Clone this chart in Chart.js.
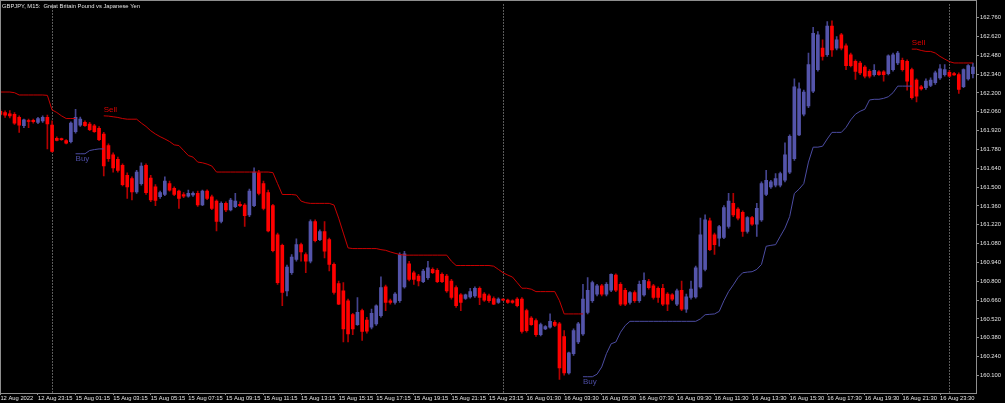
<!DOCTYPE html>
<html>
<head>
<meta charset="utf-8">
<script src="https://cdn.jsdelivr.net/npm/chart.js"></script>
<style>
  html, body { margin: 0; padding: 0; background: #000; overflow: hidden; }
</style>
</head>
<body>
<canvas id="myChart" width="1005" height="403"></canvas>
<script>
var symbolTitle = "GBPJPY, M15:  Great Britain Pound vs Japanese Yen";

// time axis: one label every 8 bars (M15)
var tickBars = [0, 8, 16, 24, 32, 40, 48, 56, 64, 72, 80, 88, 96, 104, 112, 120, 128, 136, 144, 152, 160, 168, 176, 184, 192, 200];
var timeLabels = ["12 Aug 2022", "12 Aug 23:15", "15 Aug 01:15", "15 Aug 03:15", "15 Aug 05:15", "15 Aug 07:15",
  "15 Aug 09:15", "15 Aug 11:15", "15 Aug 13:15", "15 Aug 15:15", "15 Aug 17:15", "15 Aug 19:15", "15 Aug 21:15",
  "15 Aug 23:15", "16 Aug 01:30", "16 Aug 03:30", "16 Aug 05:30", "16 Aug 07:30", "16 Aug 09:30", "16 Aug 11:30",
  "16 Aug 13:30", "16 Aug 15:30", "16 Aug 17:30", "16 Aug 19:30", "16 Aug 21:30", "16 Aug 23:30"];
var priceTicks = [160.100, 160.240, 160.380, 160.520, 160.660, 160.800, 160.940, 161.080, 161.220, 161.360,
  161.500, 161.640, 161.780, 161.920, 162.060, 162.200, 162.340, 162.480, 162.620, 162.760];
var daySeparators = [11, 107, 202];

var openPrices = [
  162.064, 162.055, 162.045, 162.042, 162.018, 161.956, 161.993, 161.996, 161.981, 161.993,
  162.018, 161.961, 161.863, 161.858, 161.846, 161.838, 161.912, 161.961, 161.981, 161.969,
  161.956, 161.937, 161.895, 161.809, 161.740, 161.706, 161.662, 161.588, 161.563, 161.465,
  161.526, 161.662, 161.568, 161.502, 161.428, 161.445, 161.526, 161.490, 161.470, 161.445,
  161.433, 161.441, 161.453, 161.367, 161.470, 161.428, 161.396, 161.244, 161.379, 161.330,
  161.355, 161.372, 161.367, 161.293, 161.362, 161.607, 161.526, 161.460, 161.362, 161.146,
  161.067, 160.728, 160.863, 160.962, 161.072, 160.999, 160.949, 161.244, 161.109, 161.170,
  161.109, 160.925, 160.782, 160.728, 160.655, 160.552, 160.478, 160.581, 160.512, 160.458,
  160.483, 160.544, 160.758, 160.655, 160.642, 160.655, 160.758, 160.930, 160.863, 160.839,
  160.797, 160.827, 160.888, 160.881, 160.851, 160.839, 160.802, 160.753, 160.699, 160.672,
  160.684, 160.691, 160.748, 160.704, 160.691, 160.672, 160.642, 160.662, 160.660, 160.655,
  160.667, 160.667, 160.581, 160.527, 160.507, 160.402, 160.446, 160.458, 160.495, 160.483,
  160.389, 160.119, 160.262, 160.348, 160.409, 160.569, 160.655, 160.704, 160.765, 160.704,
  160.733, 160.846, 160.777, 160.733, 160.642, 160.716, 160.655, 160.699, 160.797, 160.765,
  160.748, 160.748, 160.704, 160.699, 160.630, 160.733, 160.593, 160.679, 160.684, 160.758,
  160.888, 161.249, 161.146, 161.121, 161.126, 161.207, 161.379, 161.337, 161.313, 161.170,
  161.274, 161.224, 161.256, 161.445, 161.502, 161.514, 161.514, 161.551, 161.612, 161.711,
  161.888, 162.042, 162.104, 162.214, 162.374, 162.533, 162.484, 162.698, 162.533, 162.632,
  162.551, 162.484, 162.435, 162.423, 162.393, 162.361, 162.337, 162.357, 162.357, 162.344,
  162.374, 162.423, 162.443, 162.435, 162.374, 162.295, 162.246, 162.239, 162.256, 162.276,
  162.312, 162.337, 162.354, 162.344, 162.337, 162.246, 162.305, 162.344
];
var highPrices = [
  162.074, 162.067, 162.069, 162.055, 162.030, 162.005, 162.005, 162.005, 162.018, 162.030,
  162.035, 161.993, 161.873, 161.865, 161.853, 161.986, 162.079, 162.020, 161.993, 161.981,
  161.966, 161.951, 161.907, 161.821, 161.755, 161.723, 161.674, 161.607, 161.576, 161.625,
  161.681, 161.674, 161.588, 161.519, 161.470, 161.576, 161.544, 161.502, 161.477, 161.460,
  161.477, 161.465, 161.470, 161.477, 161.480, 161.441, 161.406, 161.391, 161.391, 161.416,
  161.453, 161.391, 161.377, 161.485, 161.644, 161.625, 161.544, 161.477, 161.372, 161.158,
  161.077, 160.920, 160.999, 161.116, 161.084, 161.011, 161.256, 161.256, 161.183, 161.244,
  161.121, 160.937, 160.802, 160.790, 160.667, 160.562, 160.679, 160.593, 160.532, 160.593,
  160.625, 160.832, 160.772, 160.667, 160.716, 161.011, 161.023, 160.949, 160.876, 160.851,
  160.888, 160.949, 160.900, 160.895, 160.863, 160.851, 160.814, 160.765, 160.709, 160.704,
  160.748, 160.758, 160.758, 160.716, 160.704, 160.684, 160.676, 160.669, 160.667, 160.662,
  160.679, 160.679, 160.593, 160.537, 160.520, 160.488, 160.471, 160.557, 160.507, 160.495,
  160.434, 160.274, 160.446, 160.495, 160.777, 160.827, 160.802, 160.777, 160.777, 160.790,
  160.856, 160.856, 160.790, 160.748, 160.723, 160.728, 160.802, 160.863, 160.814, 160.777,
  160.758, 160.777, 160.716, 160.709, 160.741, 160.802, 160.704, 160.802, 160.913, 161.269,
  161.293, 161.269, 161.158, 161.215, 161.362, 161.453, 161.453, 161.347, 161.323, 161.281,
  161.283, 161.379, 161.539, 161.625, 161.551, 161.600, 161.612, 161.829, 161.888, 162.305,
  162.276, 162.221, 162.497, 162.688, 162.656, 162.595, 162.730, 162.737, 162.619, 162.644,
  162.565, 162.497, 162.447, 162.435, 162.403, 162.374, 162.411, 162.366, 162.366, 162.484,
  162.497, 162.509, 162.460, 162.447, 162.386, 162.305, 162.256, 162.305, 162.312, 162.362,
  162.411, 162.411, 162.369, 162.354, 162.349, 162.379, 162.411, 162.423
];
var lowPrices = [
  162.030, 162.018, 162.015, 161.966, 161.907, 161.942, 161.942, 161.976, 161.971, 161.981,
  161.784, 161.760, 161.843, 161.848, 161.821, 161.829, 161.902, 161.951, 161.951, 161.919,
  161.907, 161.846, 161.583, 161.691, 161.612, 161.612, 161.509, 161.416, 161.404, 161.453,
  161.514, 161.445, 161.391, 161.362, 161.416, 161.436, 161.470, 161.436, 161.342, 161.421,
  161.426, 161.431, 161.357, 161.362, 161.406, 161.332, 161.175, 161.234, 161.318, 161.323,
  161.347, 161.355, 161.207, 161.281, 161.355, 161.441, 161.330, 161.166, 161.018, 160.777,
  160.618, 160.691, 160.851, 160.949, 160.949, 160.863, 160.937, 161.092, 161.102, 160.974,
  160.876, 160.704, 160.625, 160.348, 160.348, 160.402, 160.471, 160.360, 160.414, 160.446,
  160.471, 160.532, 160.581, 160.630, 160.630, 160.642, 160.748, 160.802, 160.777, 160.765,
  160.790, 160.814, 160.856, 160.790, 160.790, 160.716, 160.667, 160.606, 160.581, 160.664,
  160.674, 160.679, 160.625, 160.650, 160.642, 160.625, 160.635, 160.655, 160.635, 160.635,
  160.610, 160.414, 160.421, 160.471, 160.389, 160.394, 160.439, 160.451, 160.463, 160.070,
  160.102, 160.109, 160.249, 160.335, 160.397, 160.557, 160.642, 160.691, 160.691, 160.691,
  160.723, 160.723, 160.618, 160.618, 160.630, 160.642, 160.642, 160.689, 160.741, 160.667,
  160.642, 160.618, 160.581, 160.655, 160.618, 160.581, 160.569, 160.667, 160.674, 160.748,
  160.876, 161.028, 160.999, 161.060, 161.116, 161.195, 161.281, 161.256, 161.134, 161.158,
  161.215, 161.134, 161.244, 161.436, 161.490, 161.502, 161.502, 161.539, 161.600, 161.698,
  161.883, 162.030, 162.091, 162.202, 162.362, 162.443, 162.472, 162.472, 162.521, 162.521,
  162.374, 162.393, 162.300, 162.337, 162.312, 162.312, 162.325, 162.330, 162.288, 162.335,
  162.362, 162.411, 162.362, 162.221, 162.153, 162.133, 162.221, 162.226, 162.246, 162.263,
  162.300, 162.325, 162.320, 162.330, 162.197, 162.239, 162.295, 162.312
];
var closePrices = [
  162.040, 162.035, 162.030, 161.976, 161.961, 162.000, 161.988, 161.986, 162.010, 162.018,
  161.969, 161.765, 161.848, 161.853, 161.826, 161.976, 162.018, 162.005, 161.956, 161.927,
  161.912, 161.853, 161.657, 161.711, 161.642, 161.625, 161.519, 161.502, 161.465, 161.612,
  161.657, 161.458, 161.404, 161.401, 161.460, 161.544, 161.477, 161.445, 161.416, 161.433,
  161.453, 161.453, 161.367, 161.470, 161.416, 161.342, 161.244, 161.379, 161.330, 161.404,
  161.396, 161.362, 161.288, 161.470, 161.612, 161.453, 161.342, 161.175, 161.028, 160.790,
  160.716, 160.905, 160.979, 161.072, 161.018, 160.949, 161.244, 161.102, 161.170, 161.023,
  160.925, 160.716, 160.630, 160.446, 160.409, 160.446, 160.569, 160.426, 160.429, 160.561,
  160.618, 160.753, 160.642, 160.642, 160.704, 160.999, 161.003, 160.814, 160.814, 160.802,
  160.876, 160.900, 160.863, 160.797, 160.797, 160.728, 160.679, 160.618, 160.642, 160.699,
  160.723, 160.748, 160.679, 160.660, 160.655, 160.630, 160.667, 160.660, 160.642, 160.642,
  160.618, 160.426, 160.433, 160.478, 160.402, 160.478, 160.463, 160.502, 160.471, 160.156,
  160.119, 160.267, 160.434, 160.483, 160.667, 160.733, 160.790, 160.765, 160.704, 160.777,
  160.851, 160.733, 160.630, 160.630, 160.716, 160.655, 160.777, 160.807, 160.753, 160.679,
  160.679, 160.630, 160.630, 160.667, 160.728, 160.593, 160.684, 160.741, 160.900, 161.146,
  161.256, 161.035, 161.072, 161.207, 161.347, 161.396, 161.293, 161.269, 161.170, 161.274,
  161.224, 161.342, 161.526, 161.551, 161.539, 161.563, 161.600, 161.740, 161.878, 162.246,
  162.231, 162.207, 162.411, 162.644, 162.632, 162.472, 162.698, 162.521, 162.595, 162.533,
  162.403, 162.403, 162.361, 162.349, 162.325, 162.325, 162.369, 162.337, 162.337, 162.477,
  162.484, 162.497, 162.374, 162.288, 162.165, 162.177, 162.231, 162.288, 162.295, 162.349,
  162.379, 162.374, 162.325, 162.335, 162.226, 162.374, 162.403, 162.393
];

// trailing stop indicator: each run starts at a bar index
var sellStarts = [0, 22, 194];
var sellLevels = [
  [162.207, 162.207, 162.207, 162.202, 162.185, 162.185, 162.185, 162.185, 162.185, 162.185,
   162.182, 162.074, 162.055, 162.030, 162.010, 162.010, 162.010],
  [162.030, 162.028, 162.023, 162.018, 162.010, 162.005, 162.005, 162.005,
   161.976, 161.951, 161.919, 161.895, 161.875, 161.858, 161.839, 161.814, 161.809, 161.772,
   161.735, 161.723, 161.686, 161.681, 161.671, 161.657,
   161.612, 161.612, 161.612, 161.612, 161.612, 161.612, 161.612, 161.612, 161.612, 161.612, 161.612, 161.612,
   161.608, 161.526, 161.445, 161.445, 161.445, 161.441, 161.396, 161.384,
   161.379, 161.379, 161.379, 161.379, 161.379, 161.367, 161.269, 161.158, 161.048,
   161.043, 161.043, 161.043, 161.043, 161.043, 161.043, 161.035, 161.030, 161.018, 161.008, 160.999,
   160.994, 160.994, 160.994, 160.994, 160.994, 160.994, 160.994, 160.994, 160.994, 160.994,
   160.949, 160.917, 160.917, 160.917, 160.917, 160.917, 160.917, 160.917, 160.917,
   160.912, 160.888, 160.863, 160.846, 160.831, 160.790, 160.748, 160.748, 160.741,
   160.723, 160.723, 160.723, 160.723, 160.723, 160.655, 160.557, 160.557, 160.557, 160.557, 160.557],
  [162.526, 162.526, 162.516, 162.509, 162.509, 162.497, 162.472, 162.452, 162.433,
   162.423, 162.423, 162.423, 162.423, 162.423]
];
var buyStarts = [16, 124];
var buyLevels = [
  [161.748, 161.748, 161.748, 161.772, 161.779, 161.784, 161.784],
  [160.090, 160.090, 160.090, 160.109, 160.163, 160.262, 160.335, 160.348, 160.421, 160.471,
   160.502, 160.502, 160.502, 160.502, 160.502, 160.502, 160.502, 160.502, 160.502, 160.502,
   160.502, 160.502, 160.502, 160.502, 160.502,
   160.520, 160.551, 160.554, 160.557, 160.576, 160.655, 160.723, 160.773, 160.827, 160.863,
   160.868, 160.871, 160.888, 160.925, 161.060, 161.067, 161.072, 161.134, 161.195, 161.281,
   161.453, 161.485, 161.526, 161.686, 161.797, 161.797, 161.804, 161.858,
   161.907, 161.907, 161.907, 161.944, 162.000, 162.042, 162.064, 162.079, 162.148,
   162.153, 162.153, 162.160, 162.172, 162.202, 162.251, 162.251, 162.251, 162.251]
];

var upColor = "#5454AA";
var downColor = "#FF0000";
var upWick = "#44448E";
var downWick = "#B40000";
var sellColor = "#C80000";
var buyColor = "#4C4CA2";
var axisColor = "#8E8E8E";
var textColor = "#E2E2E2";
var smallFont = "Liberation Sans";

var bars = openPrices.map(function (o, i) { return i; });
var isUp = bars.map(function (i) { return closePrices[i] >= openPrices[i]; });

var wickData = bars.map(function (i) { return { x: i, y: [lowPrices[i], highPrices[i]] }; });
var bodyData = bars.map(function (i) { return { x: i, y: [openPrices[i], closePrices[i]] }; });

function runPoints(starts, levels) {
  var pts = [];
  starts.forEach(function (s, k) {
    levels[k].forEach(function (v, j) { pts.push({ x: s + j, y: v }); });
    pts.push({ x: s + levels[k].length - 0.5, y: null });
  });
  return pts;
}

var mt4Overlay = {
  id: "mt4Overlay",
  beforeDatasetsDraw: function (chart) {
    var ctx = chart.ctx, area = chart.chartArea, xs = chart.scales.x;
    ctx.save();
    ctx.strokeStyle = "#B4B4B4";
    ctx.lineWidth = 1;
    ctx.setLineDash([1, 2]);
    daySeparators.forEach(function (b) {
      var px = Math.round(xs.getPixelForValue(b)) + 0.5;
      ctx.beginPath();
      ctx.moveTo(px, area.top);
      ctx.lineTo(px, area.bottom);
      ctx.stroke();
    });
    ctx.restore();
  },
  afterDraw: function (chart) {
    var ctx = chart.ctx, area = chart.chartArea, xs = chart.scales.x, ys = chart.scales.y;
    ctx.save();
    // frame
    ctx.strokeStyle = axisColor;
    ctx.lineWidth = 1;
    ctx.strokeRect(0.5, 0.5, Math.round(area.right), Math.round(area.bottom));
    // title
    ctx.fillStyle = textColor;
    ctx.font = "5.8px '" + smallFont + "'";
    ctx.textBaseline = "top";
    ctx.textAlign = "left";
    ctx.fillText(symbolTitle, 2, 3);
    // Sell / Buy labels at the start of each run
    ctx.font = "8px '" + smallFont + "'";
    ctx.fillStyle = "#DD0000";
    ctx.textBaseline = "bottom";
    sellStarts.forEach(function (s, k) {
      if (s === 0) return;
      ctx.fillText("Sell", xs.getPixelForValue(s), ys.getPixelForValue(sellLevels[k][0]) - 2);
    });
    ctx.fillStyle = buyColor;
    ctx.textBaseline = "top";
    buyStarts.forEach(function (s, k) {
      ctx.fillText("Buy", xs.getPixelForValue(s), ys.getPixelForValue(buyLevels[k][0]) + 1);
    });
    ctx.restore();
  }
};

new Chart("myChart", {
  type: "bar",
  data: {
    datasets: [
      {
        type: "line", data: runPoints(sellStarts, sellLevels),
        borderColor: sellColor, borderWidth: 1, pointRadius: 0, tension: 0, spanGaps: false
      },
      {
        type: "line", data: runPoints(buyStarts, buyLevels),
        borderColor: buyColor, borderWidth: 1, pointRadius: 0, tension: 0, spanGaps: false
      },
      {
        data: bodyData, grouped: false, barThickness: 3, minBarLength: 1, borderWidth: 0,
        backgroundColor: bars.map(function (i) { return isUp[i] ? upColor : downColor; })
      },
      {
        data: wickData, grouped: false, barThickness: 1, borderWidth: 0,
        backgroundColor: bars.map(function (i) { return isUp[i] ? upWick : downWick; })
      }
    ]
  },
  options: {
    responsive: false,
    animation: false,
    events: [],
    layout: { padding: { top: 1, left: 0, right: 0, bottom: 0 } },
    plugins: {
      legend: { display: false },
      tooltip: { enabled: false },
      title: { display: false }
    },
    scales: {
      x: {
        type: "linear",
        min: -0.085,
        max: 207.66,
        offset: false,
        border: { display: false },
        grid: { display: true, offset: false, drawOnChartArea: false, drawTicks: true, tickLength: 2, color: axisColor },
        afterBuildTicks: function (scale) {
          scale.ticks = tickBars.map(function (v) { return { value: v }; });
        },
        afterFit: function (scale) { scale.height = 10; },
        ticks: {
          autoSkip: false, maxRotation: 0, minRotation: 0, align: "start", padding: 0,
          color: textColor, font: { family: smallFont, size: 5.8 },
          callback: function (value, index) { return timeLabels[index]; }
        }
      },
      y: {
        position: "right",
        min: 159.969,
        max: 162.858,
        border: { display: false },
        grid: { display: true, drawOnChartArea: false, drawTicks: true, tickLength: 3, color: axisColor },
        afterBuildTicks: function (scale) {
          scale.ticks = priceTicks.map(function (v) { return { value: v }; });
        },
        afterFit: function (scale) { scale.width = 29; },
        ticks: {
          padding: 1, color: textColor, font: { family: smallFont, size: 5.8 },
          callback: function (value) { return value.toFixed(3); }
        }
      }
    }
  },
  plugins: [mt4Overlay]
});
</script>
</body>
</html>
